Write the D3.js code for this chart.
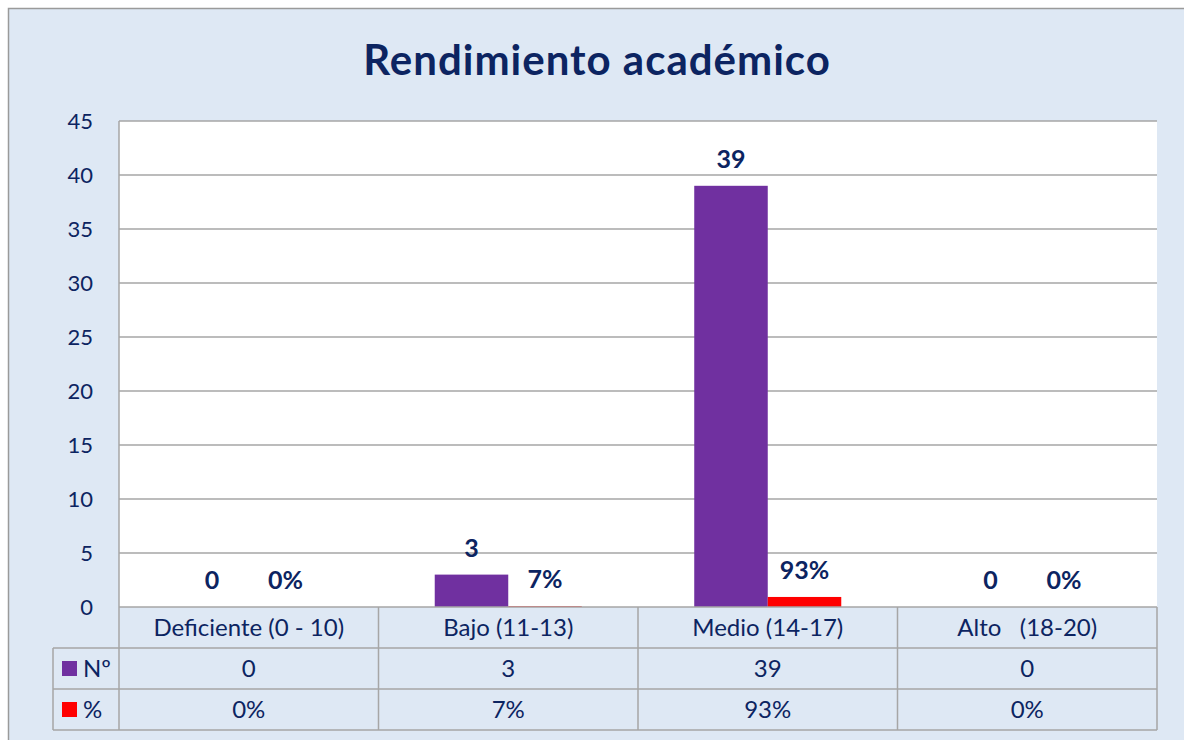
<!DOCTYPE html>
<html>
<head>
<meta charset="utf-8">
<script src="https://cdn.jsdelivr.net/npm/d3@7"></script>
<style>
  body { margin: 0; background: #fff; }
  text { font-family: Lato, "Open Sans", sans-serif; }
</style>
</head>
<body>
<div id="chart"></div>
<script>
const categories = ["Deficiente (0 - 10)", "Bajo (11-13)", "Medio (14-17)", "Alto   (18-20)"];
const seriesNames = ["Nº", "%"];
const counts = [0, 3, 39, 0];
const percents = [0, 0.07, 0.93, 0];
const yTicks = [0, 5, 10, 15, 20, 25, 30, 35, 40, 45];

const W = 1184, H = 740;
const plot = { left: 119, right: 1157, top: 121, bottom: 607 };
const rowH = 41;
const legendLeft = 53;
const navy = "#0c2461";
const gridColor = "#a6a6a6";
const colors = { "Nº": "#7030a0", "%": "#ff0000" };

const svg = d3.select("#chart").append("svg")
  .attr("width", W).attr("height", H);

// chart background
svg.append("rect")
  .attr("x", 8.5).attr("y", 8.5)
  .attr("width", W + 10).attr("height", H + 10)
  .attr("fill", "#dee8f4")
  .attr("stroke", "#9a9a9a").attr("stroke-width", 1.5);

svg.append("text")
  .attr("x", 597).attr("y", 75)
  .attr("text-anchor", "middle")
  .attr("font-size", 42).attr("font-weight", "bold")
  .attr("letter-spacing", 1)
  .attr("fill", navy)
  .text("Rendimiento académico");

svg.append("rect")
  .attr("x", plot.left).attr("y", plot.top)
  .attr("width", plot.right - plot.left).attr("height", plot.bottom - plot.top)
  .attr("fill", "#fff");

const x = d3.scaleBand().domain(categories).range([plot.left, plot.right]);
const x1 = d3.scaleBand().domain(seriesNames).range([0, x.bandwidth()])
  .paddingInner(0).paddingOuter(0.765);
const y = d3.scaleLinear().domain([0, 45]).range([plot.bottom, plot.top]);

// gridlines
svg.append("g").selectAll("line")
  .data(yTicks.filter(d => d > 0))
  .enter().append("line")
  .attr("x1", plot.left).attr("x2", plot.right)
  .attr("y1", d => y(d)).attr("y2", d => y(d))
  .attr("stroke", gridColor).attr("stroke-width", 1.5);

// y axis labels
svg.append("g").selectAll("text")
  .data(yTicks)
  .enter().append("text")
  .attr("x", 93).attr("y", d => y(d) + 8)
  .attr("text-anchor", "end")
  .attr("font-size", 22)
  .attr("fill", navy)
  .text(d => d);

const rows = categories.map(function (c, i) {
  return { cat: c, values: [
    { key: "Nº", v: counts[i], label: String(counts[i]) },
    { key: "%", v: percents[i], label: Math.round(percents[i] * 100) + "%" }
  ] };
});

const groups = svg.append("g").selectAll("g")
  .data(rows).enter().append("g")
  .attr("transform", d => "translate(" + x(d.cat) + ",0)");

groups.selectAll("rect")
  .data(d => d.values).enter().append("rect")
  .attr("x", d => x1(d.key))
  .attr("y", d => y(d.v))
  .attr("width", x1.bandwidth())
  .attr("height", d => y(0) - y(d.v))
  .attr("fill", d => colors[d.key]);

groups.selectAll("text")
  .data(d => d.values).enter().append("text")
  .attr("x", d => x1(d.key) + x1.bandwidth() / 2)
  .attr("y", d => y(d.v) - 18)
  .attr("text-anchor", "middle")
  .attr("font-size", 25).attr("font-weight", "bold")
  .attr("fill", navy)
  .text(d => d.label);

// data table
const table = svg.append("g");
const tableBottom = plot.bottom + rowH * 3;
const lineStyle = sel => sel.attr("stroke", gridColor).attr("stroke-width", 1.5);

table.append("line").call(lineStyle)
  .attr("x1", plot.left).attr("x2", plot.right)
  .attr("y1", plot.bottom).attr("y2", plot.bottom);
[1, 2, 3].forEach(function (r) {
  table.append("line").call(lineStyle)
    .attr("x1", legendLeft).attr("x2", plot.right)
    .attr("y1", plot.bottom + rowH * r).attr("y2", plot.bottom + rowH * r);
});
table.append("line").call(lineStyle)
  .attr("x1", legendLeft).attr("x2", legendLeft)
  .attr("y1", plot.bottom + rowH).attr("y2", tableBottom);
table.append("line").call(lineStyle)
  .attr("x1", plot.left).attr("x2", plot.left)
  .attr("y1", plot.top).attr("y2", tableBottom);
categories.forEach(function (c) {
  table.append("line").call(lineStyle)
    .attr("x1", x(c) + x.bandwidth()).attr("x2", x(c) + x.bandwidth())
    .attr("y1", plot.bottom).attr("y2", tableBottom);
});

table.selectAll("text.cat")
  .data(categories).enter().append("text")
  .attr("class", "cat")
  .attr("x", d => x(d) + x.bandwidth() / 2)
  .attr("y", plot.bottom + rowH / 2 + 8)
  .attr("text-anchor", "middle")
  .attr("font-size", 24)
  .attr("fill", navy)
  .style("white-space", "pre")
  .text(d => d);

const tableRows = [
  { key: "Nº", labels: counts.map(String) },
  { key: "%", labels: percents.map(p => Math.round(p * 100) + "%") }
];

tableRows.forEach(function (r, i) {
  const cy = plot.bottom + rowH * (i + 1) + rowH / 2;
  table.append("rect")
    .attr("x", 62).attr("y", cy - 7.5)
    .attr("width", 15).attr("height", 15)
    .attr("fill", colors[r.key]);
  table.append("text")
    .attr("x", 83).attr("y", cy + 8)
    .attr("font-size", 24)
    .attr("fill", navy)
    .text(r.key);
  table.selectAll("text.v" + i)
    .data(r.labels).enter().append("text")
    .attr("class", "v" + i)
    .attr("x", (d, j) => x(categories[j]) + x.bandwidth() / 2)
    .attr("y", cy + 8)
    .attr("text-anchor", "middle")
    .attr("font-size", 24)
    .attr("fill", navy)
    .text(d => d);
});
</script>
</body>
</html>
